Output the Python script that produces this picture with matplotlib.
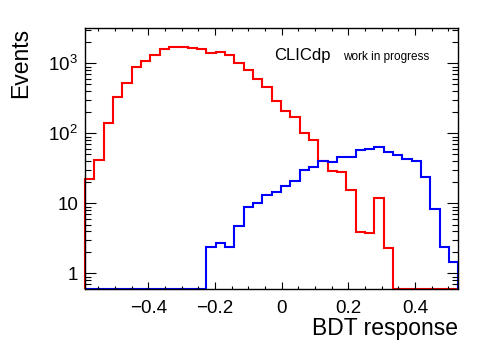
import numpy as np
import matplotlib.pyplot as plt
from matplotlib.ticker import FixedLocator, FixedFormatter, LogLocator, NullFormatter

plt.rcParams['font.family'] = ['Liberation Sans', 'DejaVu Sans']

# BDT response histograms, 40 bins between -0.59 and 0.53
x_lo, x_hi, n_bins = -0.59, 0.53, 40

red_counts = [22, 41.6, 142, 327, 528, 894, 1089, 1301, 1585, 1709,
              1738, 1638, 1585, 1420, 1440, 1301, 1020, 802, 591, 463,
              292, 206, 173, 102, 80, 40.6, 29.2, 27.7, 15.5, 3.85,
              3.73, 11.8, 2.32, 0, 0, 0, 0, 0, 0, 0]

blue_counts = [0, 0, 0, 0, 0, 0, 0, 0, 0, 0,
               0, 0, 0, 2.4, 2.68, 2.35, 4.74, 8.77, 10.3, 13.0,
               14.5, 18, 21.2, 29.9, 33.3, 40.6, 38.5, 45.4, 46.3, 57.7,
               60.6, 64.4, 55, 49, 42.5, 40.6, 24, 8.2, 2.4, 1.46]

x_ticks = [-0.4, -0.2, 0, 0.2, 0.4]
x_ticklabels = ['\u22120.4', '\u22120.2', '0', '0.2', '0.4']
y_ticks = [1, 10, 100, 1000]
y_ticklabels = ['1', '10', r'$\mathregular{10^{2}}$', r'$\mathregular{10^{3}}$']
y_lo, y_hi = 0.61, 3200

edges = np.linspace(x_lo, x_hi, n_bins + 1)

fig = plt.figure(figsize=(4.98, 3.53), dpi=100)
ax = fig.add_axes([0.1707, 0.1827, 0.7496, 0.738])
ax.set_yscale('log')

# empty bins are drawn along the bottom of the frame, like ROOT does
red = np.maximum(np.array(red_counts), y_lo)
blue = np.maximum(np.array(blue_counts), y_lo)
ax.stairs(red, edges, baseline=y_lo, color='#ff0000', lw=1.5, clip_on=False)
ax.stairs(blue, edges, baseline=y_lo, color='#0000ff', lw=1.5, clip_on=False)

ax.set_xlim(x_lo, x_hi)
ax.set_ylim(y_lo, y_hi)

ax.xaxis.set_major_locator(FixedLocator(x_ticks))
ax.xaxis.set_major_formatter(FixedFormatter(x_ticklabels))
ax.xaxis.set_minor_locator(FixedLocator(np.arange(-0.55, 0.53, 0.05)))
ax.yaxis.set_major_locator(FixedLocator(y_ticks))
ax.yaxis.set_major_formatter(FixedFormatter(y_ticklabels))
ax.yaxis.set_minor_locator(LogLocator(base=10, subs=np.arange(2, 10)))
ax.yaxis.set_minor_formatter(NullFormatter())

ax.tick_params(which='both', direction='in', top=True, right=True, width=0.8, colors='black')
ax.tick_params(axis='x', which='major', length=5, pad=8, labelsize=13.5)
ax.tick_params(axis='x', which='minor', length=2.5)
ax.tick_params(axis='y', which='major', length=8, pad=5, labelsize=13.5)
ax.tick_params(axis='y', which='minor', length=4)
for s in ax.spines.values():
    s.set_linewidth(1.0)

fig.text(458 / 498, 1 - 335 / 353, 'BDT response', ha='right', va='baseline', fontsize=16.5)
fig.text(21 / 498, 1 - 28 / 353, 'Events', rotation=90, ha='center', va='top', fontsize=16.5)
fig.text(274 / 498, 1 - 60 / 353, 'CLICdp', ha='left', va='baseline', fontsize=12)
fig.text(343 / 498, 1 - 60 / 353, 'work in progress', ha='left', va='baseline', fontsize=8.5)

fig.savefig('out.png', dpi=100)
